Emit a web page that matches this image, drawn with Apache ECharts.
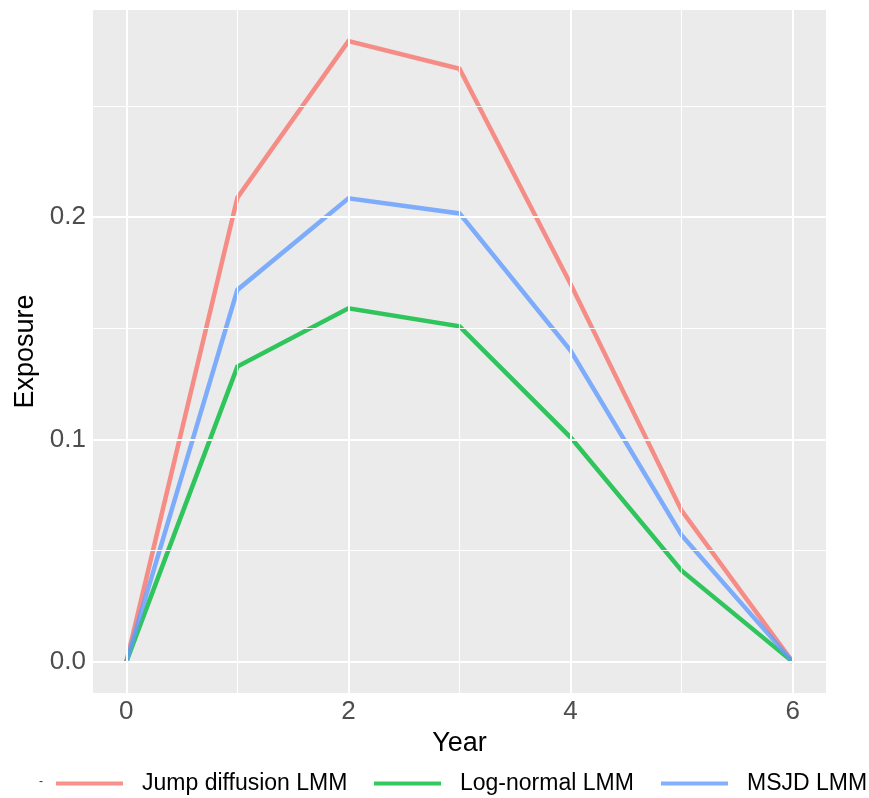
<!DOCTYPE html>
<html>
<head>
<meta charset="utf-8">
<script src="https://cdn.jsdelivr.net/npm/echarts@6/dist/echarts.min.js"></script>
<style>
html,body{margin:0;padding:0;background:#fff;}
#chart{width:869px;height:798px;}
</style>
</head>
<body>
<div id="chart"></div>
<script>
// ---- data ----
var years = [0, 1, 2, 3, 4, 5, 6];
var jumpDiffusion = [0, 0.2088, 0.2792, 0.2668, 0.170, 0.068, 0];
var logNormal = [0, 0.1328, 0.159, 0.1509, 0.101, 0.041, 0];
var msjd = [0, 0.1673, 0.2085, 0.2017, 0.140, 0.057, 0];
var seriesNames = ['Jump diffusion LMM', 'Log-normal LMM', 'MSJD LMM'];
var xTicks = [0, 2, 4, 6];
var xMinor = [1, 3, 5];
var yTicks = [0, 0.1, 0.2];
var yMinor = [0.05, 0.15, 0.25];

var colors = ['rgba(248,118,109,0.8)', 'rgba(0,186,56,0.8)', 'rgba(97,156,255,0.8)'];
var FONT = 'Liberation Sans, Arial, sans-serif';

function pairs(xs, ys) { return xs.map(function (x, i) { return [x, ys[i]]; }); }

var gridLines = [];
xTicks.forEach(function (v) { gridLines.push({ xAxis: v, lineStyle: { width: 2 } }); });
xMinor.forEach(function (v) { gridLines.push({ xAxis: v, lineStyle: { width: 1.1 } }); });
yTicks.forEach(function (v) { gridLines.push({ yAxis: v, lineStyle: { width: 2 } }); });
yMinor.forEach(function (v) { gridLines.push({ yAxis: v, lineStyle: { width: 1.1 } }); });

function lineSeries(name, vals, color) {
  return {
    name: name, type: 'line', data: pairs(years, vals),
    showSymbol: false, symbol: 'none', color: color,
    lineStyle: { width: 4.5, color: color, cap: 'butt', join: 'miter' },
    animation: false, z: 3
  };
}

function legendAt(name, left) {
  return {
    data: [name], left: left, top: 767, icon: 'rect',
    itemWidth: 67, itemHeight: 4, itemGap: 0,
    textStyle: { fontFamily: FONT, fontSize: 23, color: '#000', padding: [0, 0, 0, 14] },
    selectedMode: false
  };
}

var chart = echarts.init(document.getElementById('chart'), null, { renderer: 'canvas' });
chart.setOption({
  backgroundColor: '#ffffff',
  animation: false,
  grid: { left: 93, right: 43, top: 10, bottom: 105, show: true, backgroundColor: '#EBEBEB', borderWidth: 0,
    containLabel: false, outerBoundsMode: 'none' },
  xAxis: {
    type: 'value', min: -0.3, max: 6.3,
    name: 'Year', nameLocation: 'middle', nameGap: 34,
    nameTextStyle: { fontFamily: FONT, fontSize: 27, color: '#000' },
    axisLine: { show: false },
    axisTick: { show: true, length: 5, customValues: xTicks, lineStyle: { color: '#333', width: 1.5 } },
    axisLabel: { customValues: xTicks, fontFamily: FONT, fontSize: 26, color: '#4D4D4D', margin: 6 },
    splitLine: { show: false }
  },
  yAxis: {
    type: 'value', min: -0.014, max: 0.2932,
    name: 'Exposure', nameLocation: 'middle', nameGap: 51, nameRotate: 90,
    nameTextStyle: { fontFamily: FONT, fontSize: 27, color: '#000' },
    axisLine: { show: false },
    axisTick: { show: true, length: 5, customValues: yTicks, lineStyle: { color: '#333', width: 1.5 } },
    axisLabel: { customValues: yTicks, fontFamily: FONT, fontSize: 26, color: '#4D4D4D', margin: 7,
      formatter: function (v) { return v.toFixed(1); } },
    splitLine: { show: false }
  },
  legend: [
    legendAt(seriesNames[0], 51),
    legendAt(seriesNames[1], 369),
    legendAt(seriesNames[2], 656)
  ],
  graphic: [{
    type: 'text', left: 39, top: 776,
    style: { text: '-', fontFamily: FONT, fontSize: 12, fill: '#333' }, silent: true
  }],
  series: [
    {
      type: 'line', data: [], silent: true, z: 1, animation: false,
      markLine: {
        silent: true, symbol: ['none', 'none'], label: { show: false }, animation: false,
        lineStyle: { color: '#ffffff', type: 'solid' },
        emphasis: { disabled: true },
        data: gridLines
      }
    },
    lineSeries(seriesNames[0], jumpDiffusion, colors[0]),
    lineSeries(seriesNames[1], logNormal, colors[1]),
    lineSeries(seriesNames[2], msjd, colors[2])
  ]
});
</script>
</body>
</html>
